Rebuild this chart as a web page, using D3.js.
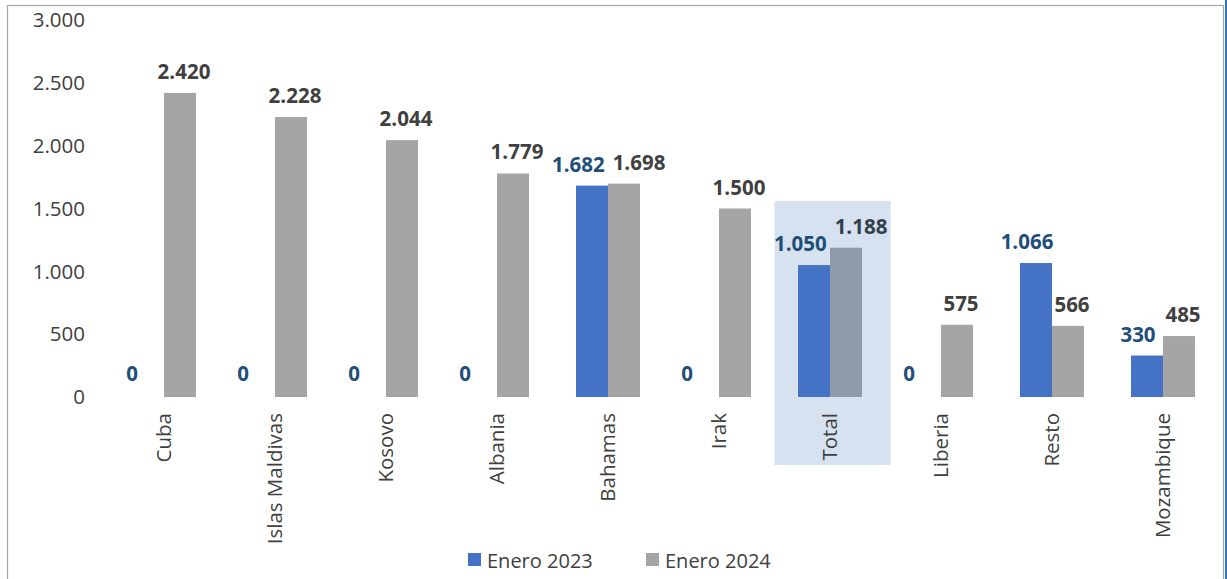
<!DOCTYPE html>
<html>
<head>
<meta charset="utf-8">
<script src="https://cdn.jsdelivr.net/npm/d3@7"></script>
<style>
  body { margin: 0; background: #fff; }
  svg { display: block; font-family: "Open Sans", sans-serif; }
</style>
</head>
<body>
<svg class="chart"></svg>
<script>
const CHART_WIDTH = 1227;
const CHART_HEIGHT = 579;

// data
const CATEGORIES = ["Cuba", "Islas Maldivas", "Kosovo", "Albania", "Bahamas", "Irak", "Total", "Liberia", "Resto", "Mozambique"];
const ENERO_2023 = [0, 0, 0, 0, 1682, 0, 1050, 0, 1066, 330];
const ENERO_2024 = [2420, 2228, 2044, 1779, 1698, 1500, 1188, 575, 566, 485];
const SERIES = ["Enero 2023", "Enero 2024"];
const Y_TICKS = [0, 500, 1000, 1500, 2000, 2500, 3000];
const HIGHLIGHT = "Total";

const locale = d3.formatLocale({decimal: ",", thousands: ".", grouping: [3], currency: ["", ""]});
const FORMAT_NUM = locale.format(",.0f");

const BLUE = "#4472c4";
const GRAY = "#a5a5a5";

let svg = d3.select(".chart")
            .attr("width", CHART_WIDTH)
            .attr("height", CHART_HEIGHT);

// outer frame
svg.append("rect")
   .attr("x", 7.5).attr("y", 5.5)
   .attr("width", 1216).attr("height", 620)
   .attr("fill", "none")
   .attr("stroke", "#a6a6a6")
   .attr("stroke-width", 1.2);
svg.append("rect")
   .attr("x", 1225).attr("y", 0)
   .attr("width", 2).attr("height", CHART_HEIGHT)
   .attr("fill", "#2e75b6");

let x = d3.scaleBand()
          .domain(CATEGORIES)
          .range([108.5, 1218.5])
          .paddingInner(0.4234)
          .paddingOuter(0.2117);

let xInner = d3.scaleBand().domain(SERIES).range([0, x.bandwidth()]);

let y = d3.scaleLinear().domain([0, 3000]).range([397, 20]);

const rows = CATEGORIES.map((c, i) => ({
  cat: c,
  values: [
    {series: SERIES[0], value: ENERO_2023[i], cat: c},
    {series: SERIES[1], value: ENERO_2024[i], cat: c}
  ]
}));

// highlight behind Total
const hx = x(HIGHLIGHT) + x.bandwidth() / 2;
svg.append("rect")
   .attr("x", hx - 55.5)
   .attr("y", y(1560))
   .attr("width", 116)
   .attr("height", 465 - y(1560))
   .attr("fill", "#d6e2ef");

// y axis labels (no line)
svg.append("g")
   .selectAll("text")
   .data(Y_TICKS)
   .join("text")
   .attr("x", 85)
   .attr("y", d => y(d))
   .attr("dy", "0.35em")
   .attr("text-anchor", "end")
   .attr("font-size", 20.5)
   .attr("fill", "#404040")
   .text(d => FORMAT_NUM(d));

// bars
let groups = svg.append("g")
                .selectAll("g")
                .data(rows)
                .join("g")
                .attr("transform", d => `translate(${x(d.cat)},0)`);

groups.selectAll("rect")
      .data(d => d.values)
      .join("rect")
      .attr("x", d => xInner(d.series))
      .attr("y", d => y(d.value))
      .attr("width", xInner.bandwidth())
      .attr("height", d => y(0) - y(d.value))
      .attr("fill", d => d.series === SERIES[0] ? BLUE : (d.cat === HIGHLIGHT ? "#8e9aa7" : GRAY));

groups.selectAll("text.val")
      .data(d => d.values)
      .join("text")
      .attr("class", "val")
      .attr("x", d => xInner(d.series) + xInner.bandwidth() / 2)
      .attr("dx", d => d.series === SERIES[0] ? (d.value === 0 ? -16 : -9) : 4)
      .attr("y", d => y(d.value) - (d.value === 0 ? 16 : 14))
      .attr("text-anchor", "middle")
      .attr("font-size", 20.5)
      .attr("font-weight", "bold")
      .attr("fill", d => d.series === SERIES[0] ? "#1f4e79" : (d.cat === HIGHLIGHT ? "#333f4f" : "#404040"))
      .text(d => FORMAT_NUM(d.value));

// push the two labels of a group apart when they collide
groups.each(function() {
  let labels = d3.select(this).selectAll("text.val").nodes();
  let [a, b] = labels;
  let da = d3.select(a).datum(), db = d3.select(b).datum();
  if (da.value === 0) return;
  let ya = +a.getAttribute("y"), yb = +b.getAttribute("y");
  if (Math.abs(ya - yb) > 22) return;
  let ca = +a.getAttribute("x") + +a.getAttribute("dx");
  let cb = +b.getAttribute("x") + +b.getAttribute("dx");
  let need = (a.getComputedTextLength() + b.getComputedTextLength()) / 2 + 8;
  let extra = need - (cb - ca);
  if (extra <= 0) return;
  a.setAttribute("dx", +a.getAttribute("dx") - extra * 0.3);
  b.setAttribute("dx", +b.getAttribute("dx") + extra * 0.7);
});

// category labels
svg.append("g")
   .selectAll("text")
   .data(CATEGORIES)
   .join("text")
   .attr("transform", d => `translate(${x(d) + x.bandwidth() / 2 + 7},413) rotate(-90)`)
   .attr("text-anchor", "end")
   .attr("font-size", 20.5)
   .attr("fill", "#404040")
   .text(d => d);

// legend
const LEGEND_X = [468, 646];
let legend = svg.append("g")
                .selectAll("g")
                .data(SERIES)
                .join("g")
                .attr("transform", (d, i) => `translate(${LEGEND_X[i]},553)`);

legend.append("rect")
      .attr("width", 13).attr("height", 13)
      .attr("fill", (d, i) => i === 0 ? BLUE : GRAY);

legend.append("text")
      .attr("x", 19)
      .attr("y", 15)
      .attr("font-size", 20)
      .attr("fill", "#404040")
      .text(d => d);
</script>
</body>
</html>
